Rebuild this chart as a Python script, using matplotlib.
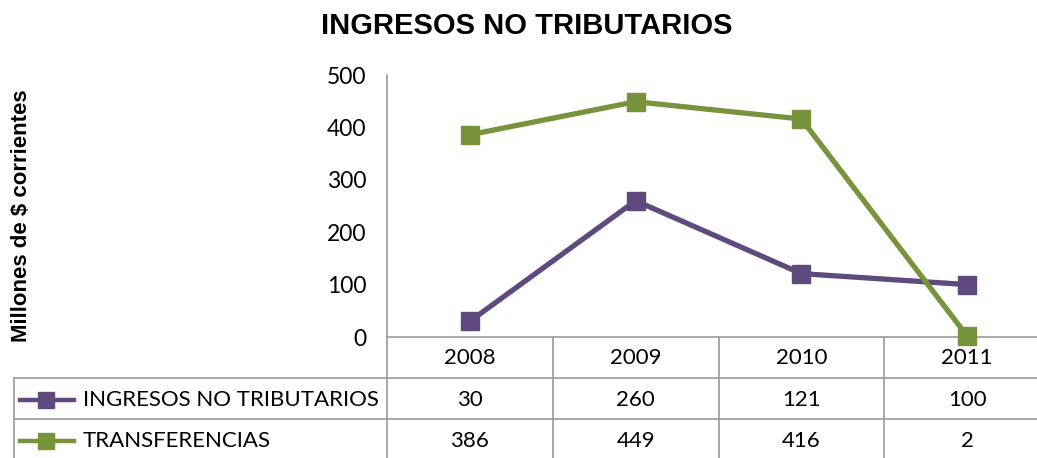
import matplotlib
matplotlib.use("Agg")
import matplotlib.pyplot as plt
from matplotlib.lines import Line2D

# data
years = ["2008", "2009", "2010", "2011"]
ingresos = [30, 260, 121, 100]
transferencias = [386, 449, 416, 2]
series_names = ["INGRESOS NO TRIBUTARIOS", "TRANSFERENCIAS"]
y_ticks = [0, 100, 200, 300, 400, 500]

PURPLE = "#5F4A7D"
GREEN = "#77933C"
GRID = "#9A9A9A"
W, H = 1037, 458
BODY_FONT = ["Lato", "DejaVu Sans"]
HEAD_FONT = ["Liberation Sans", "DejaVu Sans"]

fig = plt.figure(figsize=(W / 100, H / 100), dpi=100)

# pixel helpers
def fx(px):
    return px / W

def fy(py):
    return 1 - py / H

x_left, x_right = 387, 1050
y_top, y_base = 75, 337

ax = fig.add_axes([fx(x_left), fy(y_base), fx(x_right - x_left), fy(y_top) - fy(y_base)])
xs = range(len(years))
for vals, col in [(ingresos, PURPLE), (transferencias, GREEN)]:
    ax.plot(xs, vals, color=col, lw=3.8, marker="s", markersize=13.5,
            markeredgecolor=col, clip_on=False, zorder=3)

ax.set_xlim(-0.5, len(years) - 0.5)
ax.set_ylim(0, 500)
ax.set_yticks(y_ticks)
ax.set_xticks([])
for s in ["top", "right"]:
    ax.spines[s].set_visible(False)
for s in ["left", "bottom"]:
    ax.spines[s].set_color(GRID)
    ax.spines[s].set_linewidth(1.2)
ax.tick_params(axis="y", length=0, pad=15, labelsize=16.5)
for lab in ax.get_yticklabels():
    lab.set_family(BODY_FONT)

fig.text(0.508, fy(26), "INGRESOS NO TRIBUTARIOS", ha="center", va="center",
         fontsize=21, fontweight="bold", family=HEAD_FONT)
fig.text(fx(22), fy(216), "Millones de $ corrientes", rotation=90, ha="center",
         va="center", fontsize=16, fontweight="bold", family=HEAD_FONT)

# data table drawn in figure pixels
tab = fig.add_axes([0, 0, 1, 1], zorder=-1)
tab.set_xlim(0, W)
tab.set_ylim(H, 0)
tab.axis("off")

row_tops = [378, 419, 460]
col_w = (x_right - x_left) / len(years)
col_edges = [x_left + i * col_w for i in range(len(years) + 1)]

line_kw = dict(color=GRID, lw=1.2)
tab.plot([x_left, x_left], [y_base, H + 5], **line_kw)
for e in col_edges[1:]:
    tab.plot([e, e], [y_base, H + 5], **line_kw)
for r in row_tops:
    tab.plot([14, x_right], [r, r], **line_kw)
tab.plot([14, 14], [row_tops[0], H + 5], **line_kw)

centers = [x_left + (i + 0.5) * col_w for i in range(len(years))]
for c, yr in zip(centers, years):
    tab.text(c, 358, yr, ha="center", va="center", fontsize=16, family=BODY_FONT)

rows = [ingresos, transferencias]
colors = [PURPLE, GREEN]
row_mid = [400, 441]
for name, vals, col, ym in zip(series_names, rows, colors, row_mid):
    tab.add_line(Line2D([20, 74], [ym, ym], color=col, lw=3.2))
    tab.add_line(Line2D([46], [ym], color=col, marker="s", markersize=11))
    tab.text(83, ym, name, ha="left", va="center", fontsize=16, family=BODY_FONT)
    for c, v in zip(centers, vals):
        tab.text(c, ym, str(v), ha="center", va="center", fontsize=16, family=BODY_FONT)

fig.savefig("out.png", dpi=100)
